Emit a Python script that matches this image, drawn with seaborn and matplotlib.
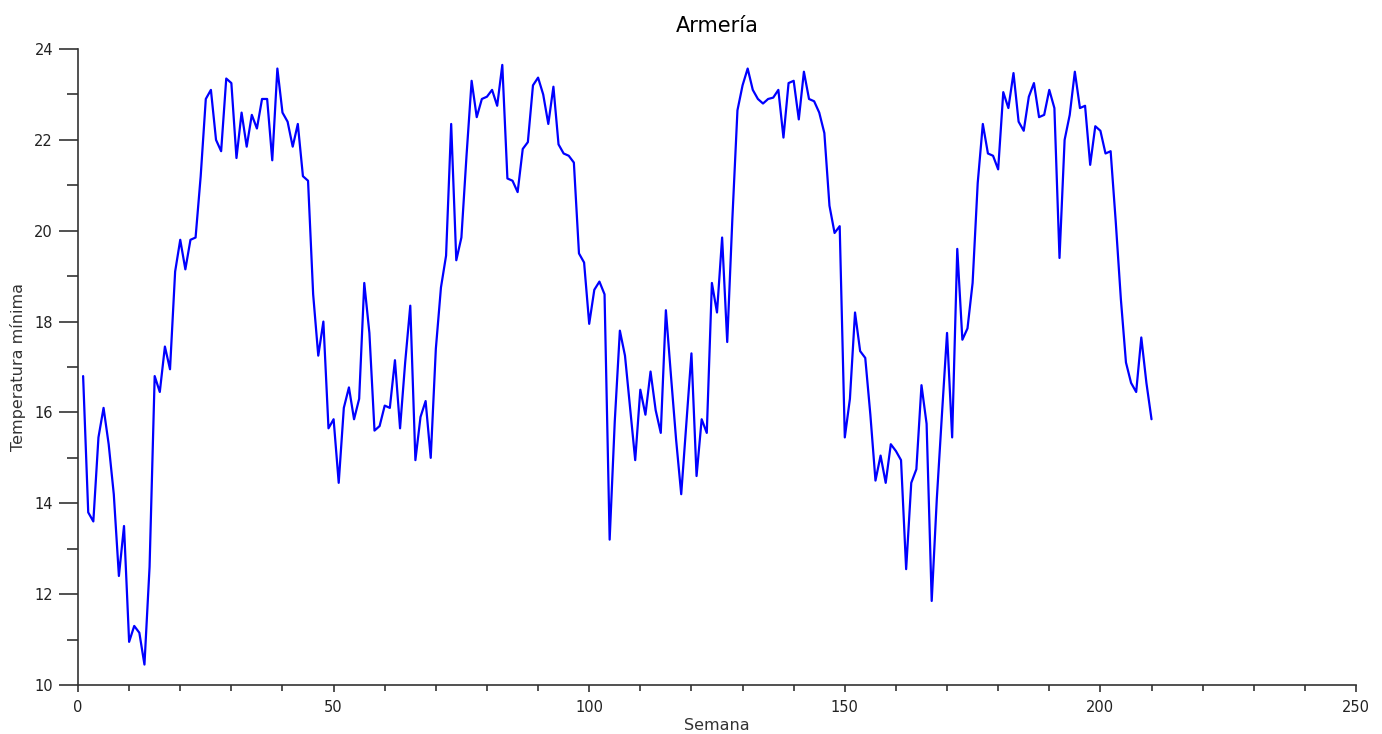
import numpy as np
import pandas as pd
import seaborn as sns
import matplotlib.pyplot as plt
from matplotlib.ticker import MultipleLocator

sns.set_style("ticks")
plt.rcParams['font.family'] = ['DejaVu Sans']

# temperatura minima semanal, Armeria (semanas 1..210)
temp_min = [
    16.8, 13.8, 13.6, 15.45, 16.1, 15.3, 14.2, 12.4, 13.5, 10.95,
    11.3, 11.15, 10.45, 12.6, 16.8, 16.45, 17.45, 16.95, 19.1, 19.8,
    19.15, 19.8, 19.85, 21.2, 22.9, 23.1, 22.0, 21.75, 23.35, 23.25,
    21.6, 22.6, 21.85, 22.55, 22.25, 22.9, 22.9, 21.55, 23.57, 22.6,
    22.4, 21.85, 22.35, 21.2, 21.1, 18.6, 17.25, 18.0, 15.65, 15.85,
    14.45, 16.1, 16.55, 15.85, 16.3, 18.85, 17.75, 15.6, 15.7, 16.15,
    16.1, 17.15, 15.65, 17.1, 18.35, 14.95, 15.9, 16.25, 15.0, 17.4,
    18.75, 19.45, 22.35, 19.35, 19.85, 21.65, 23.3, 22.5, 22.9, 22.95,
    23.1, 22.75, 23.65, 21.15, 21.1, 20.85, 21.8, 21.95, 23.2, 23.37,
    23.0, 22.35, 23.17, 21.9, 21.7, 21.65, 21.5, 19.5, 19.3, 17.95,
    18.7, 18.88, 18.6, 13.2, 15.8, 17.8, 17.25, 16.1, 14.95, 16.5,
    15.95, 16.9, 16.05, 15.55, 18.25, 16.8, 15.4, 14.2, 15.75, 17.3,
    14.6, 15.85, 15.55, 18.85, 18.2, 19.85, 17.55, 20.25, 22.65, 23.2,
    23.57, 23.1, 22.9, 22.8, 22.9, 22.93, 23.1, 22.05, 23.25, 23.3,
    22.45, 23.5, 22.9, 22.85, 22.6, 22.15, 20.55, 19.95, 20.1, 15.45,
    16.3, 18.2, 17.35, 17.2, 15.95, 14.5, 15.05, 14.45, 15.3, 15.15,
    14.95, 12.55, 14.45, 14.75, 16.6, 15.75, 11.85, 14.1, 15.95, 17.75,
    15.45, 19.6, 17.6, 17.85, 18.85, 21.05, 22.35, 21.7, 21.65, 21.35,
    23.05, 22.7, 23.47, 22.4, 22.2, 22.95, 23.25, 22.5, 22.55, 23.1,
    22.7, 19.4, 22.0, 22.55, 23.5, 22.7, 22.75, 21.45, 22.3, 22.2,
    21.7, 21.75, 20.2, 18.5, 17.1, 16.65, 16.45, 17.65, 16.65, 15.85,
]
semanas = list(range(1, len(temp_min) + 1))

df = pd.DataFrame({'Semana': semanas, 'Temperatura mínima': temp_min})

fig = plt.figure(figsize=(13.82, 7.34), dpi=100)
ax = fig.add_axes([78 / 1382, 1 - 685 / 734, (1356 - 78) / 1382, (685 - 49) / 734])

sns.lineplot(data=df, x='Semana', y='Temperatura mínima', color='#0000ff',
             linewidth=1.6, ax=ax)

ax.set_xlim(0, 250)
ax.set_ylim(10, 24)
ax.xaxis.set_major_locator(MultipleLocator(50))
ax.xaxis.set_minor_locator(MultipleLocator(10))
ax.yaxis.set_major_locator(MultipleLocator(2))
ax.yaxis.set_minor_locator(MultipleLocator(1))

sns.despine(ax=ax)
for s in ['left', 'bottom']:
    ax.spines[s].set_color('#333333')
    ax.spines[s].set_linewidth(1.2)

ax.tick_params(axis='y', which='major', length=14, width=1.2, color='#333333',
               labelsize=10.5, labelcolor='#222222', pad=4)
ax.tick_params(axis='y', which='minor', length=8, width=1.2, color='#333333')
ax.tick_params(axis='x', which='major', length=5, width=1.2, color='#333333',
               labelsize=10.5, labelcolor='#222222', pad=6)
ax.tick_params(axis='x', which='minor', length=4, width=1.2, color='#333333')

ax.set_title('Armería', fontsize=15, color='black', pad=12)
ax.set_xlabel('Semana', fontsize=11.5, color='#333333', labelpad=2)
ax.set_ylabel('Temperatura mínima', fontsize=11.5, color='#333333', labelpad=6)

fig.savefig('out.png', dpi=100)
